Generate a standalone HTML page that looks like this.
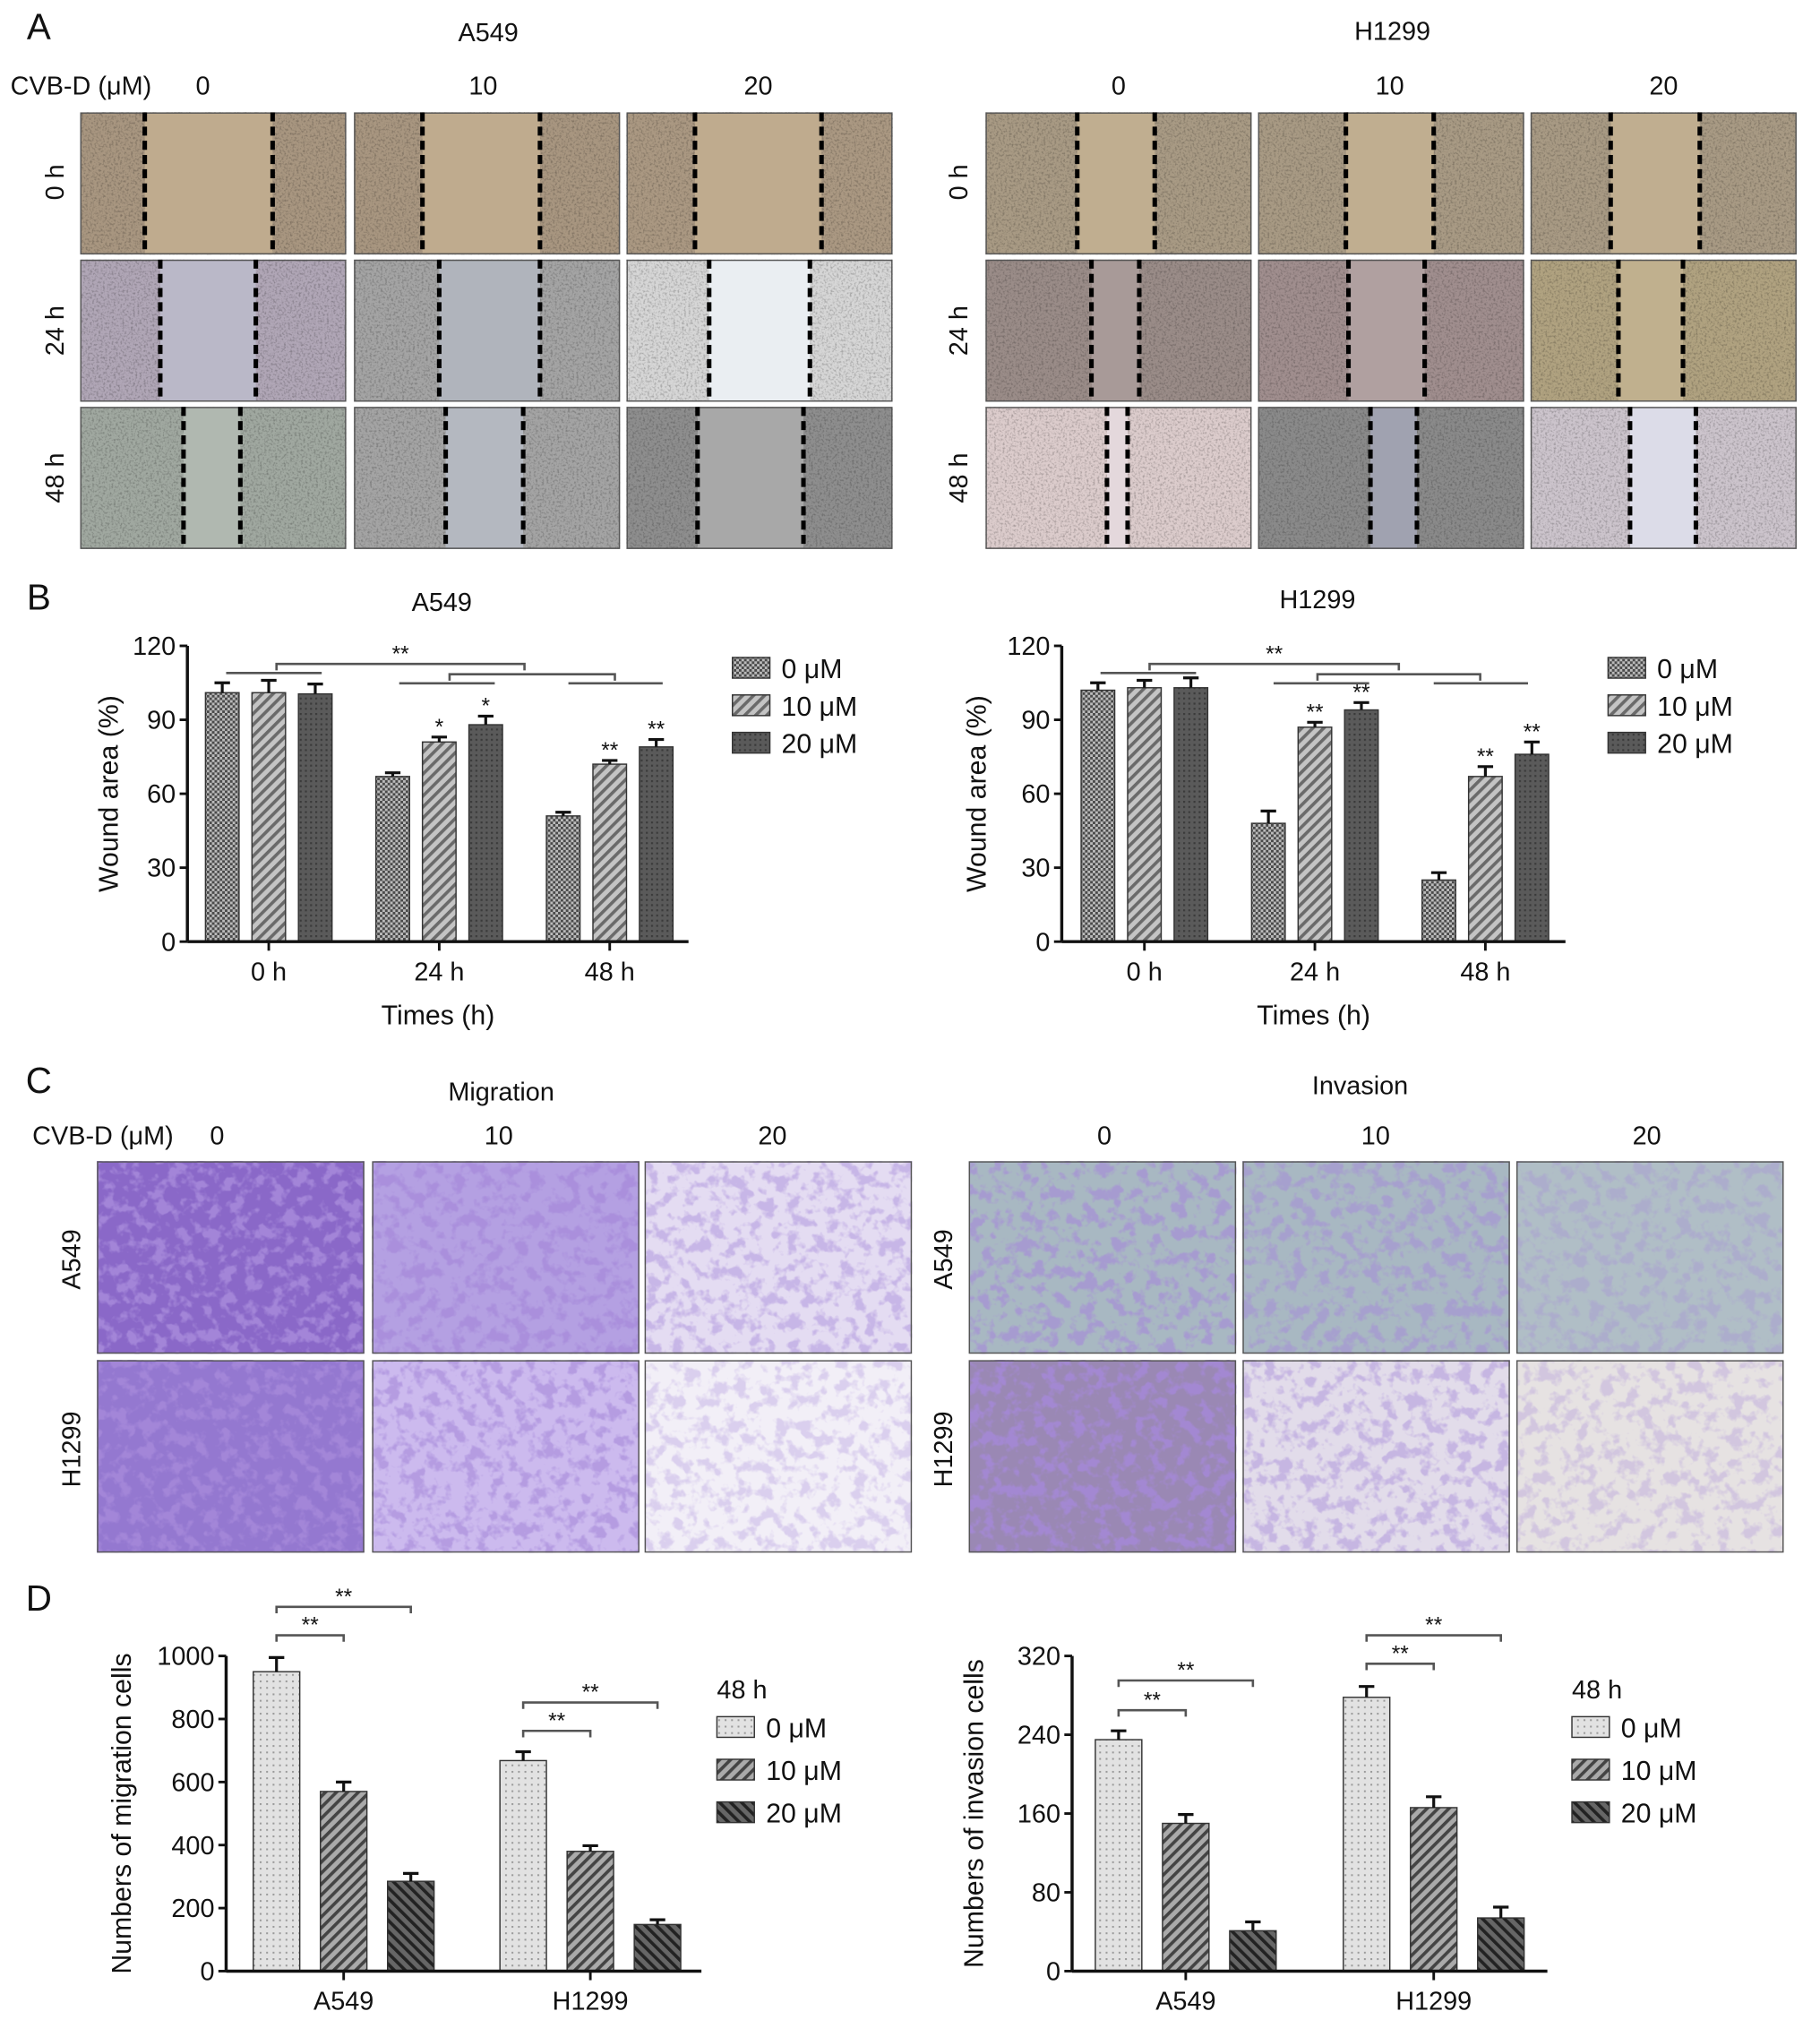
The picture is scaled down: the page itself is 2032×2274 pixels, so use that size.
<!DOCTYPE html>
<html><head><meta charset="utf-8">
<style>
html,body{margin:0;padding:0;background:#fff;}
svg{display:block;font-family:"Liberation Sans",sans-serif;}
</style></head>
<body>
<svg id="fig" xmlns="http://www.w3.org/2000/svg" width="2032" height="2274" viewBox="0 0 1409 1577">
<defs>
  <filter id="speck" x="0" y="0" width="1" height="1">
    <feTurbulence type="fractalNoise" baseFrequency="0.6" numOctaves="2" seed="3"/>
    <feColorMatrix type="matrix" values="0 0 0 0 0  0 0 0 0 0  0 0 0 0 0  -3 0 0 0 1.6"/>
  </filter>
  <filter id="blob" x="0" y="0" width="1" height="1">
    <feTurbulence type="fractalNoise" baseFrequency="0.1" numOctaves="3" seed="7"/>
    <feColorMatrix type="matrix" values="0 0 0 0 0.38  0 0 0 0 0.25  0 0 0 0 0.7  -6 0 0 0 3.1"/>
  </filter>
  <pattern id="pChk" width="4" height="4" patternUnits="userSpaceOnUse"><rect width="4" height="4" fill="#4a4a4a"/><rect x="0" y="0" width="2" height="2" fill="#bbb"/><rect x="2" y="2" width="2" height="2" fill="#bbb"/></pattern>
  <pattern id="pHatch" width="6" height="6" patternUnits="userSpaceOnUse" patternTransform="rotate(45)"><rect width="6" height="6" fill="#c4c4c4"/><rect width="2.5" height="6" fill="#6a6a6a"/></pattern>
  <pattern id="pDark" width="4" height="4" patternUnits="userSpaceOnUse"><rect width="4" height="4" fill="#5a5a5a"/><rect width="1.5" height="1.5" fill="#3a3a3a"/></pattern>
  <pattern id="pDot" width="5" height="5" patternUnits="userSpaceOnUse"><rect width="5" height="5" fill="#e2e2e2"/><rect x="1" y="1" width="1.4" height="1.4" fill="#9a9a9a"/></pattern>
  <pattern id="pH10" width="6" height="6" patternUnits="userSpaceOnUse" patternTransform="rotate(45)"><rect width="6" height="6" fill="#aaa"/><rect width="2.5" height="6" fill="#444"/></pattern>
  <pattern id="pH20" width="6" height="6" patternUnits="userSpaceOnUse" patternTransform="rotate(-45)"><rect width="6" height="6" fill="#666"/><rect width="2.5" height="6" fill="#222"/></pattern>
</defs>
<g id="root"></g>
</svg>
<script>
// ---------- Chart data (panel B) ----------
const woundGroups = ['0 h', '24 h', '48 h'];
const woundTicks = [0, 30, 60, 90, 120];
const wA549_0 = [101, 67, 51];
const wA549_10 = [101, 81, 72];
const wA549_20 = [100.5, 88, 79];
const wA549_err0 = [4, 1.5, 1.5];
const wA549_err10 = [5, 2, 1.5];
const wA549_err20 = [4, 3.5, 3];
const wA549_star = [['', '', ''], ['', '*', '*'], ['', '**', '**']];
const wH1299_0 = [102, 48, 25];
const wH1299_10 = [103, 87, 67];
const wH1299_20 = [103, 94, 76];
const wH1299_err0 = [3, 5, 3];
const wH1299_err10 = [3, 2, 4];
const wH1299_err20 = [4, 3, 5];
const wH1299_star = [['', '', ''], ['', '**', '**'], ['', '**', '**']];
// ---------- Chart data (panel D) ----------
const cellGroups = ['A549', 'H1299'];
const migTicks = [0, 200, 400, 600, 800, 1000];
const mig_0 = [950, 668];
const mig_10 = [570, 380];
const mig_20 = [285, 148];
const mig_err0 = [45, 28];
const mig_err10 = [30, 18];
const mig_err20 = [25, 15];
const invTicks = [0, 80, 160, 240, 320];
const inv_0 = [235, 278];
const inv_10 = [150, 166];
const inv_20 = [41, 54];
const inv_err0 = [9, 11];
const inv_err10 = [9, 11];
const inv_err20 = [9, 11];
const doseLabels = ['0 \u03bcM', '10 \u03bcM', '20 \u03bcM'];

const NS = 'http://www.w3.org/2000/svg';
const root = document.getElementById('root');
function mk(tag, attrs, parent) {
  const e = document.createElementNS(NS, tag);
  for (const k in attrs) e.setAttribute(k, attrs[k]);
  (parent || root).appendChild(e);
  return e;
}
function txt(s, x, y, size, anchor, parent, rot) {
  const t = mk('text', {x: x, y: y, 'font-size': size, 'text-anchor': anchor || 'middle', fill: '#111'}, parent);
  if (rot) t.setAttribute('transform', 'rotate(-90 ' + x + ' ' + y + ')');
  t.textContent = s;
  return t;
}

// ---------- Panel A: wound tiles ----------
const woundTiles = [
  [62, 87, '#a89680', '#bfab8e', 112, 211], [274, 87, '#a89680', '#bfab8e', 327, 418], [485, 87, '#aa9882', '#bfab8e', 538, 636],
  [62, 201, '#b0a6b6', '#bab8c8', 124, 198], [274, 201, '#a4a4a4', '#b0b4bc', 340, 418], [485, 201, '#d6d6d6', '#eaeef2', 549, 627],
  [62, 315, '#a0a8a0', '#b0b8b0', 142, 186], [274, 315, '#a4a4a4', '#b4b8c0', 345, 405], [485, 315, '#8e8e8e', '#a8a8a8', 540, 622],
  [763, 87, '#a89a84', '#c0ae90', 834, 894], [974, 87, '#a89a84', '#c0ae90', 1042, 1110], [1185, 87, '#a89a84', '#c0ae90', 1247, 1316],
  [763, 201, '#9a8c88', '#a89a98', 845, 882], [974, 201, '#a08e8e', '#b0a0a0', 1044, 1103], [1185, 201, '#b0a280', '#c0b08e', 1253, 1303],
  [763, 315, '#dccccc', '#e4d8dc', 857, 873], [974, 315, '#8a8a8a', '#a0a2b0', 1061, 1097], [1185, 315, '#ccc4cc', '#dcdce8', 1262, 1313]
];
woundTiles.forEach(function (t, i) {
  const g = mk('g', {});
  
  
  mk('rect', {x: t[0], y: t[1], width: 206, height: 110, fill: t[2]}, g);
  mk('rect', {x: t[0], y: t[1], width: 206, height: 110, fill: '#000', filter: 'url(#speck)', opacity: 0.22}, g);
  mk('rect', {x: t[4], y: t[1], width: t[5] - t[4], height: 110, fill: t[3]}, g);
  mk('rect', {x: t[0] + 0.5, y: t[1] + 0.5, width: 205, height: 109, fill: 'none', stroke: '#555', 'stroke-width': 1}, g);
  [t[4], t[5]].forEach(function (dx) {
    mk('line', {x1: dx, y1: t[1], x2: dx, y2: t[1] + 110, stroke: '#000', 'stroke-width': 3.5, 'stroke-dasharray': '7 4'}, g);
  });
});
const aLbl = mk('g', {});


txt('A', 30, 30, 28, 'middle', aLbl);
txt('A549', 378, 32, 20, 'middle', aLbl);
txt('H1299', 1078, 31, 20, 'middle', aLbl);
txt('CVB-D (\u03bcM)', 8, 73, 20, 'start', aLbl);
[['0', 157], ['10', 374], ['20', 587], ['0', 866], ['10', 1076], ['20', 1288]].forEach(function (d) { txt(d[0], d[1], 73, 20, 'middle', aLbl); });
[['0 h', 141], ['24 h', 256], ['48 h', 370]].forEach(function (d) {
  txt(d[0], 49, d[1], 20, 'middle', aLbl, true);
  txt(d[0], 749, d[1], 20, 'middle', aLbl, true);
});

// ---------- Panel C: transwell tiles ----------
const cTiles = [
  [75, 899, '#8a68c8', 0.9], [288, 899, '#b4a0e2', 0.7], [499, 899, '#e4dcf2', 0.45],
  [75, 1053, '#9478d0', 0.85], [288, 1053, '#ccbaee', 0.6], [499, 1053, '#f2eff7', 0.3],
  [750, 899, '#a8b8c2', 0.6], [962, 899, '#a8b8c2', 0.5], [1174, 899, '#b0bec6', 0.3],
  [750, 1053, '#9a88b4', 0.8], [962, 1053, '#e2dcea', 0.45], [1174, 1053, '#e6e2e2', 0.3]
];
cTiles.forEach(function (t, i) {
  const g = mk('g', {});
  
  
  mk('rect', {x: t[0], y: t[1], width: 207, height: 149, fill: t[2]}, g);
  mk('rect', {x: t[0], y: t[1], width: 207, height: 149, fill: '#000', filter: 'url(#blob)', opacity: t[3]}, g);
  mk('rect', {x: t[0] + 0.5, y: t[1] + 0.5, width: 206, height: 148, fill: 'none', stroke: '#555', 'stroke-width': 1}, g);
});
const cLbl = mk('g', {});


txt('C', 30, 846, 28, 'middle', cLbl);
txt('Migration', 388, 852, 20, 'middle', cLbl);
txt('Invasion', 1053, 847, 20, 'middle', cLbl);
txt('CVB-D (\u03bcM)', 25, 886, 20, 'start', cLbl);
[['0', 168], ['10', 386], ['20', 598], ['0', 855], ['10', 1065], ['20', 1275]].forEach(function (d) { txt(d[0], d[1], 886, 20, 'middle', cLbl); });
[['A549', 975], ['H1299', 1122]].forEach(function (d) {
  txt(d[0], 62, d[1], 20, 'middle', cLbl, true);
  txt(d[0], 737, d[1], 20, 'middle', cLbl, true);
});
txt('B', 30, 472, 28, 'middle');
txt('D', 30, 1247, 28, 'middle');

// ---------- Bar chart helper ----------
function barChart(c) {
  const g = mk('g', {});
  
  
  const yMax = c.ticks[c.ticks.length - 1];
  const Y = function (v) { return c.y0 - (v / yMax) * (c.y0 - c.yTop); };
  const GX = function (i) { return c.x0 + c.gOff + i * c.gStep; };
  const series = [c.s0, c.s1, c.s2];
  const errs = [c.e0, c.e1, c.e2];
  series.forEach(function (vals, s) {
    vals.forEach(function (v, i) {
      const cx = GX(i) + (s - 1) * c.bOff;
      const b = mk('rect', {x: cx - c.bw / 2, y: Y(v), width: c.bw, height: c.y0 - Y(v), fill: 'url(#' + c.pats[s] + ')', stroke: '#333', 'stroke-width': 1}, g);
      
      
      const top = Y(v + errs[s][i]);
      const eb = mk('path', {d: 'M' + cx + ' ' + Y(v) + 'V' + top + 'M' + (cx - 6) + ' ' + top + 'H' + (cx + 6), stroke: '#111', 'stroke-width': 2.2, fill: 'none'}, g);
      
      
      if (c.stars && c.stars[i][s]) {
        const st = txt(c.stars[i][s], cx, top - 2, 17, 'middle', g);
        
        
      }
    });
  });
  const ax = mk('path', {d: 'M' + c.x0 + ' ' + c.yTop + 'V' + c.y0 + 'M' + c.x0 + ' ' + c.y0 + 'H' + c.x1, stroke: '#111', 'stroke-width': 2.4, fill: 'none'}, g);
  
  
  c.ticks.forEach(function (t) {
    mk('line', {x1: c.x0 - 6, x2: c.x0, y1: Y(t), y2: Y(t), stroke: '#111', 'stroke-width': 2}, g);
    const l = txt(String(t), c.x0 - 9, Y(t) + 7, 20, 'end', g);
    
    
  });
  c.groups.forEach(function (gname, i) {
    mk('line', {x1: GX(i), x2: GX(i), y1: c.y0, y2: c.y0 + 7, stroke: '#111', 'stroke-width': 2}, g);
    const l = txt(gname, GX(i), c.y0 + 30, 20, 'middle', g);
    
    
  });
  const yt = txt(c.yTitle, c.yTitleX, (c.y0 + c.yTop) / 2, 21, 'middle', g, true);
  
  
  if (c.xTitle) {
    const xt = txt(c.xTitle, (c.x0 + c.x1) / 2, c.y0 + 64, 21, 'middle', g);
    
    
  }
  if (c.title) {
    const tt = txt(c.title, c.titleX, c.titleY, 20, 'middle', g);
    
    
  }
  if (c.legHead) txt(c.legHead, c.legX, c.legY0 - 22, 20, 'start', g);
  doseLabels.forEach(function (lab, s) {
    const ly = c.legY0 + s * c.legStep;
    const le = mk('g', {}, g);
    
    
    mk('rect', {x: c.legX, y: ly - 8, width: 29, height: 16, fill: 'url(#' + c.pats[s] + ')', stroke: '#333', 'stroke-width': 1}, le);
    txt(lab, c.legX + 38, ly + 8, 21, 'start', le);
  });
  (c.brackets || []).forEach(function (b) {
    const p = mk('path', {d: 'M' + b[0] + ' ' + (b[2] + (b[4] ? 5 : 0)) + 'V' + b[2] + 'H' + b[1] + 'V' + (b[2] + (b[4] ? 5 : 0)), stroke: '#555', 'stroke-width': 1.8, fill: 'none'}, g);
    
    
    if (b[3]) txt(b[3], (b[0] + b[1]) / 2, b[2] - 2, 17, 'middle', g);
  });
}

barChart({name: 'wound-chart-a549', groups: woundGroups, ticks: woundTicks, s0: wA549_0, s1: wA549_10, s2: wA549_20,
  e0: wA549_err0, e1: wA549_err10, e2: wA549_err20, stars: wA549_star, pats: ['pChk', 'pHatch', 'pDark'],
  x0: 145, x1: 533, y0: 729, yTop: 500, gOff: 63, gStep: 132, bOff: 36, bw: 26,
  yTitle: 'Wound area (%)', yTitleX: 91, xTitle: 'Times (h)', title: 'A549', titleX: 342, titleY: 473,
  legX: 567, legY0: 517, legStep: 29,
  brackets: [[175, 249, 521, '', false], [214, 406, 514, '**', true], [309, 383, 529, '', false], [348, 476, 522, '', true], [440, 513, 529, '', false]]});
barChart({name: 'wound-chart-h1299', groups: woundGroups, ticks: woundTicks, s0: wH1299_0, s1: wH1299_10, s2: wH1299_20,
  e0: wH1299_err0, e1: wH1299_err10, e2: wH1299_err20, stars: wH1299_star, pats: ['pChk', 'pHatch', 'pDark'],
  x0: 822, x1: 1212, y0: 729, yTop: 500, gOff: 64, gStep: 132, bOff: 36, bw: 26,
  yTitle: 'Wound area (%)', yTitleX: 763, xTitle: 'Times (h)', title: 'H1299', titleX: 1020, titleY: 471,
  legX: 1245, legY0: 517, legStep: 29,
  brackets: [[852, 926, 521, '', false], [890, 1083, 514, '**', true], [986, 1060, 529, '', false], [1020, 1146, 522, '', true], [1110, 1183, 529, '', false]]});
barChart({name: 'migration-chart', groups: cellGroups, ticks: migTicks, s0: mig_0, s1: mig_10, s2: mig_20,
  e0: mig_err0, e1: mig_err10, e2: mig_err20, pats: ['pDot', 'pH10', 'pH20'],
  x0: 175, x1: 543, y0: 1526, yTop: 1282, gOff: 91, gStep: 191, bOff: 52, bw: 36,
  yTitle: 'Numbers of migration cells', yTitleX: 101, legHead: '48 h', legX: 555, legY0: 1337, legStep: 33,
  brackets: [[214, 266, 1266, '**', true], [214, 318, 1244, '**', true], [405, 457, 1340, '**', true], [405, 509, 1318, '**', true]]});
barChart({name: 'invasion-chart', groups: cellGroups, ticks: invTicks, s0: inv_0, s1: inv_10, s2: inv_20,
  e0: inv_err0, e1: inv_err10, e2: inv_err20, pats: ['pDot', 'pH10', 'pH20'],
  x0: 830, x1: 1198, y0: 1526, yTop: 1282, gOff: 88, gStep: 192, bOff: 52, bw: 36,
  yTitle: 'Numbers of invasion cells', yTitleX: 761, legHead: '48 h', legX: 1217, legY0: 1337, legStep: 33,
  brackets: [[866, 918, 1324, '**', true], [866, 970, 1301, '**', true], [1058, 1110, 1288, '**', true], [1058, 1162, 1266, '**', true]]});
</script>
</body></html>
